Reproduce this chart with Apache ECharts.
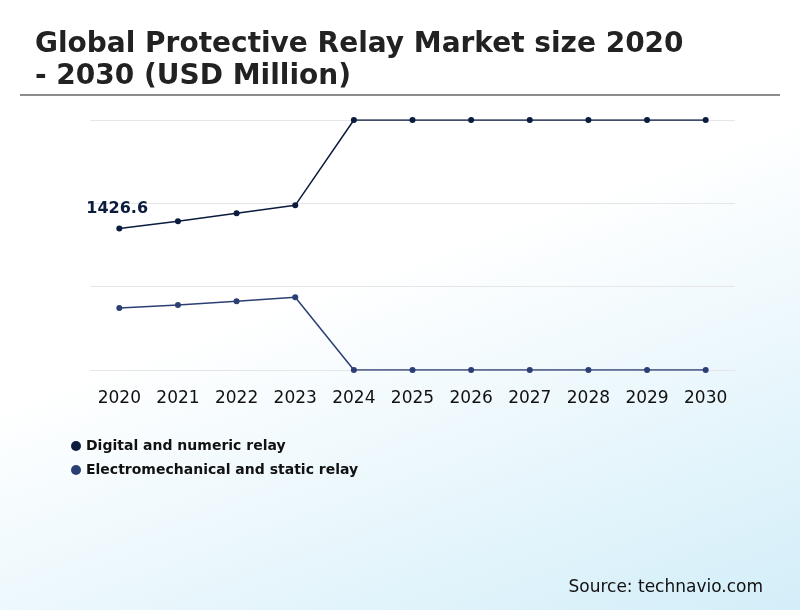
<!DOCTYPE html>
<html lang="en">
<head>
<meta charset="UTF-8">
<title>Global Protective Relay Market</title>
<style>
    html, body { margin: 0; padding: 0; }
    body {
        width: 800px; height: 610px;
        background: linear-gradient(160deg, #ffffff 45%, #d3eef9 100%);
        font-family: 'DejaVu Sans', sans-serif;
    }
    #chart { width: 800px; height: 610px; }
</style>
<script src="https://cdn.jsdelivr.net/npm/echarts@6/dist/echarts.min.js"></script>
</head>
<body>
<div id="chart"></div>
<script>
    // data (y axis hidden; scale 0..2520)
    const years = ['2020', '2021', '2022', '2023', '2024', '2025', '2026', '2027', '2028', '2029', '2030'];
    const digital = [1426.6, 1499, 1579, 1660, 2520, 2520, 2520, 2520, 2520, 2520, 2520];
    const electro = [624, 654, 694, 734, 0, 0, 0, 0, 0, 0, 0];

    const chart = echarts.init(document.getElementById('chart'));
    chart.setOption({
        backgroundColor: 'transparent',
        textStyle: { fontFamily: 'DejaVu Sans' },
        title: {
            text: 'Global Protective Relay Market size 2020\n- 2030 (USD Million)',
            left: 30, top: 24,
            textStyle: { fontSize: 28, fontWeight: 'bold', color: '#222', lineHeight: 32, fontFamily: 'DejaVu Sans' }
        },
        graphic: [
            { type: 'line', shape: { x1: 20, y1: 95, x2: 780, y2: 95 }, style: { stroke: '#666', lineWidth: 1.5 } },
            { type: 'text', right: 37, top: 579, style: { text: 'Source: technavio.com', fontSize: 17, fill: '#111', fontFamily: 'DejaVu Sans' } }
        ],
        legend: {
            orient: 'vertical', left: 66, top: 434, itemGap: 10,
            icon: 'circle', itemWidth: 10, itemHeight: 10,
            textStyle: { fontSize: 14, fontWeight: 'bold', color: '#111' }
        },
        grid: { left: 90, right: 65, top: 120, bottom: 240 },
        xAxis: {
            type: 'category', data: years, boundaryGap: true,
            axisLine: { show: false }, axisTick: { show: false },
            axisLabel: { fontSize: 17, color: '#111', margin: 20 }
        },
        yAxis: {
            type: 'value', min: 0, max: 2520, interval: 840,
            axisLabel: { show: false },
            splitLine: { lineStyle: { color: '#e6e6e6' } }
        },
        series: [
            {
                name: 'Digital and numeric relay', type: 'line', data: digital,
                color: '#0b1c3f', symbol: 'circle', symbolSize: 6,
                lineStyle: { width: 1.5 },
                label: {
                    show: true, position: [-30, -25], fontSize: 16, fontWeight: 'bold', color: '#0b1c3f',
                    formatter: p => p.dataIndex === 0 ? String(p.value) : ''
                }
            },
            {
                name: 'Electromechanical and static relay', type: 'line', data: electro,
                color: '#2c3f74', symbol: 'circle', symbolSize: 6,
                lineStyle: { width: 1.5 }
            }
        ]
    });
</script>
</body>
</html>
